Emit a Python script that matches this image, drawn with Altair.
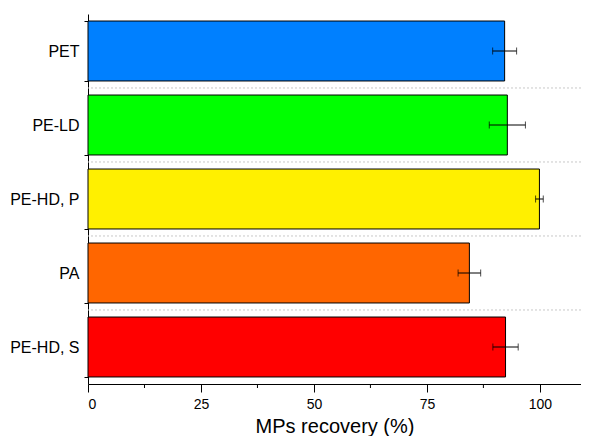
import altair as alt
import pandas as pd

categories = ["PET", "PE-LD", "PE-HD, P", "PA", "PE-HD, S"]
recovery = [92.2, 92.8, 99.9, 84.4, 92.4]
errors = [2.65, 4.0, 0.85, 2.5, 2.8]
colors = ["#0080FF", "#00FF00", "#FFF000", "#FF6600", "#FF0000"]
x_ticks = [0, 25, 50, 75, 100]
minor_ticks = [12.5, 37.5, 62.5, 87.5]

df = pd.DataFrame({"cat": categories, "val": recovery, "err": errors})
df["lo"] = df["val"] - df["err"]
df["hi"] = df["val"] + df["err"]
grid_df = pd.DataFrame({"cat": categories[:-1]})
minor_df = pd.DataFrame({"m": minor_ticks})

W, H = 493, 370
PAD = 0.19
FONT = "Liberation Sans"

xscale = alt.Scale(domain=[0, 109.1], nice=False, zero=True)
yscale = alt.Scale(domain=categories, paddingInner=PAD, paddingOuter=PAD / 2)

xaxis = alt.Axis(
    values=x_ticks,
    grid=False,
    tickSize=8,
    tickColor="black",
    domainColor="black",
    labelFont=FONT,
    labelFontSize=14,
    labelColor="black",
    labelPadding=5,
    titleFont=FONT,
    titleFontSize=20,
    titleFontWeight="normal",
    titleColor="black",
    titlePadding=5,
)
yaxis = alt.Axis(
    tickBand="extent",
    grid=False,
    tickSize=4,
    tickColor="black",
    domainColor="black",
    labelFont=FONT,
    labelFontSize=16,
    labelColor="black",
    labelPadding=5,
)


def Y():
    return alt.Y("cat:N", scale=yscale, sort=categories, title=None, axis=yaxis)


def X(field):
    return alt.X(field, scale=xscale, title="MPs recovery (%)", axis=xaxis)


grid = alt.Chart(grid_df).mark_rule(
    color="#c8c8c8", strokeDash=[2, 2], strokeWidth=1, yOffset=7
).encode(
    y=alt.Y("cat:N", scale=yscale, sort=categories, bandPosition=1, title=None, axis=yaxis)
)

bars = alt.Chart(df).mark_bar(stroke="black", strokeWidth=1).encode(
    x=X("val:Q"),
    y=Y(),
    color=alt.Color("cat:N", scale=alt.Scale(domain=categories, range=colors), legend=None),
)

err_rule = alt.Chart(df).mark_rule(color="black", strokeWidth=1).encode(
    x=X("lo:Q"), x2="hi:Q", y=Y()
)
cap_lo = alt.Chart(df).mark_tick(color="black", size=7, thickness=1).encode(
    x=X("lo:Q"), y=Y()
)
cap_hi = alt.Chart(df).mark_tick(color="black", size=7, thickness=1).encode(
    x=X("hi:Q"), y=Y()
)

minor = alt.Chart(minor_df).mark_rule(color="black", strokeWidth=1).encode(
    x=X("m:Q"),
    y=alt.value(H),
    y2=alt.value(H + 4),
)

chart = alt.layer(grid, bars, err_rule, cap_lo, cap_hi, minor).properties(
    width=W,
    height=H,
    padding={"left": 80, "top": 6, "right": 0, "bottom": 52},
    autosize=alt.AutoSizeParams(type="none"),
).configure(background="white", view=alt.ViewConfig(stroke=None))

chart.save("out.html", embed_options={"renderer": "svg", "actions": False})
